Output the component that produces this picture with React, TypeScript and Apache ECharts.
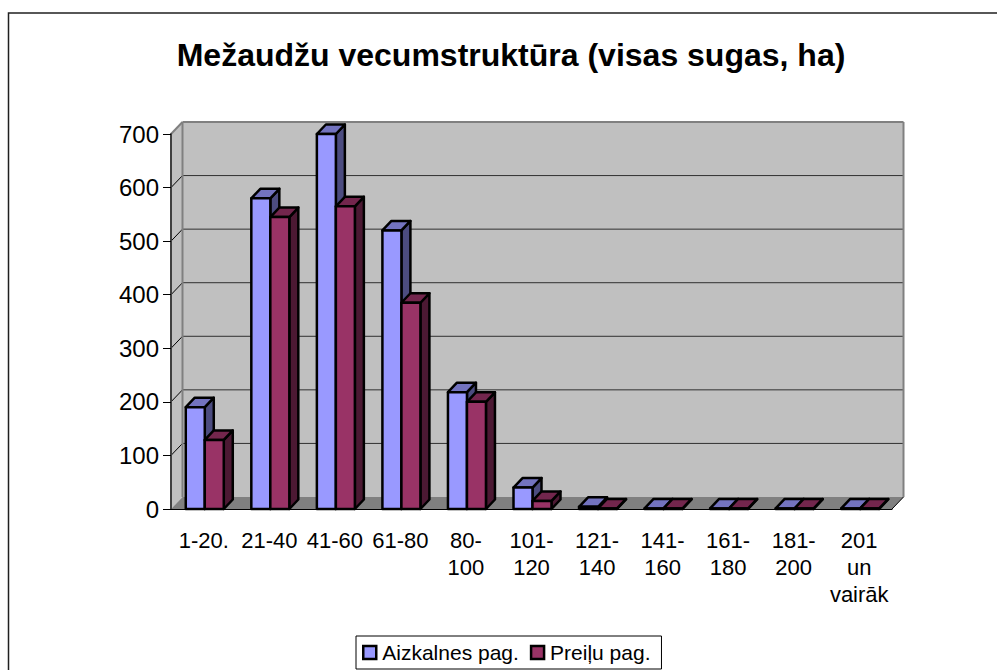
import React, { useEffect, useRef } from "react";
import * as echarts from "echarts";

const titleText = "Mežaudžu vecumstruktūra (visas sugas, ha)";
const categories = ["1-20.", "21-40", "41-60", "61-80", "80-\n100", "101-\n120", "121-\n140", "141-\n160", "161-\n180", "181-\n200", "201\nun\nvairāk"];
const aizkalnes = [190, 580, 700, 520, 218, 40, 4, 1, 1, 1, 1];
const preilu = [129, 545, 565, 385, 200, 15, 1, 1, 1, 1, 1];
const yTicks = [0, 100, 200, 300, 400, 500, 600, 700];
const nameA = "Aizkalnes pag.";
const nameB = "Preiļu pag.";
const FONT = "Liberation Sans";
const WALL_DX = 11.5;
const WALL_DY = 12;
const BAR_DX = 9;
const BAR_DY = 9.5;
const BAR_W = 19;

function wallsRenderer(params: any, api: any) {
  const c = params.coordSys;
  const L = c.x, T = c.y, R = c.x + c.width, B = c.y + c.height;
  const poly = (pts: number[][], fill: string) => ({
    type: "polygon",
    shape: { points: pts },
    style: { fill },
  });
  const line = (x1: number, y1: number, x2: number, y2: number, stroke: string, lw = 1) => ({
    type: "line",
    shape: { x1, y1, x2, y2 },
    style: { stroke, lineWidth: lw },
  });
  const children: any[] = [
    poly([[L + WALL_DX, T - WALL_DY], [R + WALL_DX, T - WALL_DY], [R + WALL_DX, B - WALL_DY], [L + WALL_DX, B - WALL_DY]], "#c0c0c0"),
    poly([[L, T], [L + WALL_DX, T - WALL_DY], [L + WALL_DX, B - WALL_DY], [L, B]], "#c0c0c0"),
    poly([[L, B], [L + WALL_DX, B - WALL_DY], [R + WALL_DX, B - WALL_DY], [R, B]], "#808080"),
  ];
  yTicks.forEach((t) => {
    const y = api.coord([0, t])[1];
    if (t > 0 && t < 700) children.push(line(L + WALL_DX, y - WALL_DY, R + WALL_DX, y - WALL_DY, "#303030", 1));
    if (t > 0 && t < 700) children.push(line(L, y, L + WALL_DX, y - WALL_DY, "#000", 1));
  });
  children.push(
    line(L, T, L + WALL_DX, T - WALL_DY, "#808080", 2),
    line(L + WALL_DX, T - WALL_DY, R + WALL_DX, T - WALL_DY, "#808080", 2),
    line(L + WALL_DX, T - WALL_DY, L + WALL_DX, B - WALL_DY, "#808080", 2),
    line(R + WALL_DX, T - WALL_DY, R + WALL_DX, B - WALL_DY, "#808080", 2),
    line(R, B, R + WALL_DX, B - WALL_DY, "#000", 1)
  );
  return { type: "group", children };
}

function barRenderer(seriesPos: number, front: string, top: string, side: string) {
  return (_params: any, api: any) => {
    const p = api.coord([api.value(0), api.value(1)]);
    const base = api.coord([api.value(0), 0]);
    const x0 = p[0] + 1 + (seriesPos - 1) * BAR_W;
    const x1 = x0 + BAR_W;
    const yT = p[1];
    const yB = base[1];
    const s = { stroke: "#000", lineWidth: 2.5, lineJoin: "round" };
    return {
      type: "group",
      children: [
        { type: "polygon", shape: { points: [[x1, yB], [x1 + BAR_DX, yB - BAR_DY], [x1 + BAR_DX, yT - BAR_DY], [x1, yT]] }, style: { fill: side, ...s } },
        { type: "polygon", shape: { points: [[x0, yT], [x0 + BAR_DX, yT - BAR_DY], [x1 + BAR_DX, yT - BAR_DY], [x1, yT]] }, style: { fill: top, ...s } },
        { type: "polygon", shape: { points: [[x0, yB], [x0, yT], [x1, yT], [x1, yB]] }, style: { fill: front, ...s } },
      ],
    };
  };
}

export default function App() {
  const ref = useRef<HTMLDivElement>(null);
  useEffect(() => {
    document.body.style.margin = "0";
    document.body.style.overflow = "hidden";
    const chart = echarts.init(ref.current!, undefined, { renderer: "svg" });
    chart.setOption({
      animation: false,
      backgroundColor: "#fff",
      title: {
        text: titleText,
        left: 506,
        top: 34,
        textAlign: "center",
        textStyle: { fontFamily: FONT, fontSize: 32, fontWeight: "bold", color: "#000" },
      },
      grid: { left: 171, right: 105, top: 134, bottom: 161, containLabel: false },
      graphic: [
        {
          type: "rect",
          shape: { x: 8.5, y: 13, width: 1500, height: 1500 },
          style: { fill: "none", stroke: "#202020", lineWidth: 1.5 },
          silent: true,
          z: 0,
        },
      ],
      legend: {
        data: [
          { name: nameA, icon: "rect" },
          { name: nameB, icon: "rect" },
        ],
        left: 356,
        top: 636,
        padding: [6, 11, 6, 6],
        itemWidth: 13,
        itemHeight: 13,
        itemGap: 11,
        borderColor: "#000",
        borderWidth: 1,
        backgroundColor: "#fff",
        textStyle: { fontFamily: FONT, fontSize: 21, color: "#000", padding: [0, 0, 0, 1] },
        itemStyle: { borderColor: "#000", borderWidth: 2.5 },
        selectedMode: false,
      },
      xAxis: {
        type: "category",
        data: categories,
        boundaryGap: true,
        z: 5,
        axisLine: { lineStyle: { color: "#000", width: 1 } },
        axisTick: { length: 7, lineStyle: { color: "#000" }, alignWithLabel: false },
        axisLabel: { interval: 0, fontFamily: FONT, fontSize: 22, color: "#000", lineHeight: 27, margin: 18, hideOverlap: false },
      },
      yAxis: {
        type: "value",
        min: 0,
        max: 700,
        interval: 100,
        z: 5,
        splitLine: { show: false },
        axisLine: { show: true, lineStyle: { color: "#404040", width: 2 } },
        axisTick: { show: true, length: 8, lineStyle: { color: "#000" } },
        axisLabel: { fontFamily: FONT, fontSize: 24, color: "#000", margin: 12 },
      },
      series: [
        {
          type: "custom",
          name: "walls",
          silent: true,
          z: 1,
          data: [[0, 0]],
          renderItem: wallsRenderer,
        },
        {
          type: "custom",
          name: nameA,
          z: 2,
          silent: true,
          itemStyle: { color: "#9999ff" },
          encode: { x: 0, y: 1 },
          data: aizkalnes.map((v, i) => [i, v]),
          renderItem: barRenderer(0, "#9999ff", "#7373bf", "#4c4c80"),
        },
        {
          type: "custom",
          name: nameB,
          z: 3,
          silent: true,
          itemStyle: { color: "#993366" },
          encode: { x: 0, y: 1 },
          data: preilu.map((v, i) => [i, v]),
          renderItem: barRenderer(1, "#993366", "#73264d", "#4c1933"),
        },
      ],
    });
    return () => chart.dispose();
  }, []);
  return <div ref={ref} style={{ position: "fixed", left: 0, top: 0, width: 997, height: 670 }} />;
}
